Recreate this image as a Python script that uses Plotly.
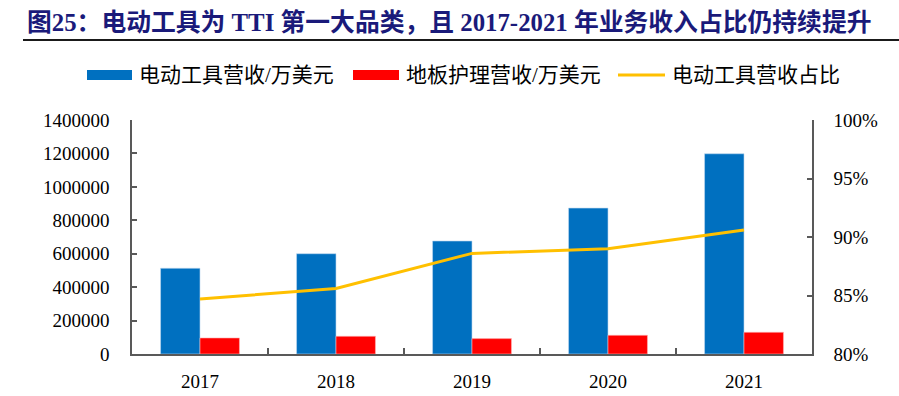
import plotly.graph_objects as go

years = ["2017", "2018", "2019", "2020", "2021"]
power_tools = [513000, 600000, 676000, 873000, 1198000]
floor_care = [96000, 106000, 92000, 112000, 130000]
share = [0.847, 0.856, 0.886, 0.890, 0.906]

names = ["电动工具营收/万美元", "地板护理营收/万美元", "电动工具营收占比"]
colors = ["#0070C0", "#FF0000", "#FFC000"]
title_text = "图25：电动工具为 TTI 第一大品类，且 2017-2021 年业务收入占比仍持续提升"

W, H = 899, 396
L, R, T, B = 132, 87, 120, 42
pw, ph = W - L - R, H - T - B


def px2x(px):
    return (px - L) / pw


def px2y(py):
    return (H - B - py) / ph


tick_font = dict(family="Liberation Serif, Times New Roman, serif", size=19, color="#000000")
axis_col = "#595959"

fig = go.Figure()
fig.add_trace(go.Bar(x=years, y=power_tools, name=names[0], marker=dict(color=colors[0], line=dict(color="#BDD7EE", width=0.6)), showlegend=False))
fig.add_trace(go.Bar(x=years, y=floor_care, name=names[1], marker=dict(color=colors[1], line=dict(color="#FFB3B3", width=0.6)), showlegend=False))
fig.add_trace(go.Scatter(x=years, y=share, name=names[2], yaxis="y2", mode="lines", line=dict(color=colors[2], width=3), showlegend=False))

fig.update_layout(
    width=W, height=H,
    margin=dict(l=L, r=R, t=T, b=B, autoexpand=False),
    paper_bgcolor="white", plot_bgcolor="white",
    barmode="group", bargap=0.42, bargroupgap=0,
    title=dict(
        text=title_text, x=27 / W, xanchor="left", xref="container",
        y=1 - 22 / H, yanchor="middle", yref="container", automargin=False,
        font=dict(family="Liberation Serif, Noto Sans CJK SC, serif", size=24.8, color="#1A1A7A", weight="bold"),
    ),
    xaxis=dict(
        type="category", showgrid=False, showline=True, linecolor=axis_col, linewidth=1.5,
        ticks="inside", tickson="boundaries", ticklen=6, tickwidth=1.5, tickcolor=axis_col,
        tickfont=tick_font, ticklabelstandoff=9, automargin=False,
    ),
    yaxis=dict(
        range=[0, 1400000], dtick=200000, tickformat="d", showgrid=False, zeroline=False,
        showline=True, linecolor=axis_col, linewidth=1.5,
        ticks="inside", ticklen=5, tickwidth=1.5, tickcolor=axis_col,
        tickfont=tick_font, ticklabelstandoff=17, automargin=False,
    ),
    yaxis2=dict(
        range=[0.8, 1.0], dtick=0.05, tickformat=".0%", overlaying="y", side="right",
        showgrid=False, zeroline=False, showline=True, linecolor=axis_col, linewidth=1.5,
        ticks="inside", ticklen=5, tickwidth=1.5, tickcolor=axis_col,
        tickfont=tick_font, ticklabelstandoff=16, automargin=False,
    ),
)

# underline of the title
fig.add_shape(type="line", xref="paper", yref="paper", x0=px2x(23), x1=px2x(W), y0=px2y(40), y1=px2y(40),
              line=dict(color="#1A1A1A", width=2))

# custom legend
leg_font = dict(family="Liberation Serif, Noto Sans CJK SC, serif", size=21, color="#000000")
leg_y = 75
swatches = [(87, 132), (353, 399), (618, 665)]
for i, (x0, x1) in enumerate(swatches):
    if i < 2:
        fig.add_shape(type="rect", xref="paper", yref="paper", x0=px2x(x0), x1=px2x(x1),
                      y0=px2y(leg_y + 5), y1=px2y(leg_y - 5), fillcolor=colors[i], line=dict(width=0))
    else:
        fig.add_shape(type="line", xref="paper", yref="paper", x0=px2x(x0), x1=px2x(x1),
                      y0=px2y(leg_y), y1=px2y(leg_y), line=dict(color=colors[i], width=3))
    fig.add_annotation(text=names[i], xref="paper", yref="paper", x=px2x(x1 + 5), y=px2y(leg_y),
                       xanchor="left", yanchor="middle", showarrow=False, font=leg_font)

fig.write_html("out.html", config={"displayModeBar": False},
               post_script="document.body.style.margin='0';document.body.style.overflow='hidden';")
